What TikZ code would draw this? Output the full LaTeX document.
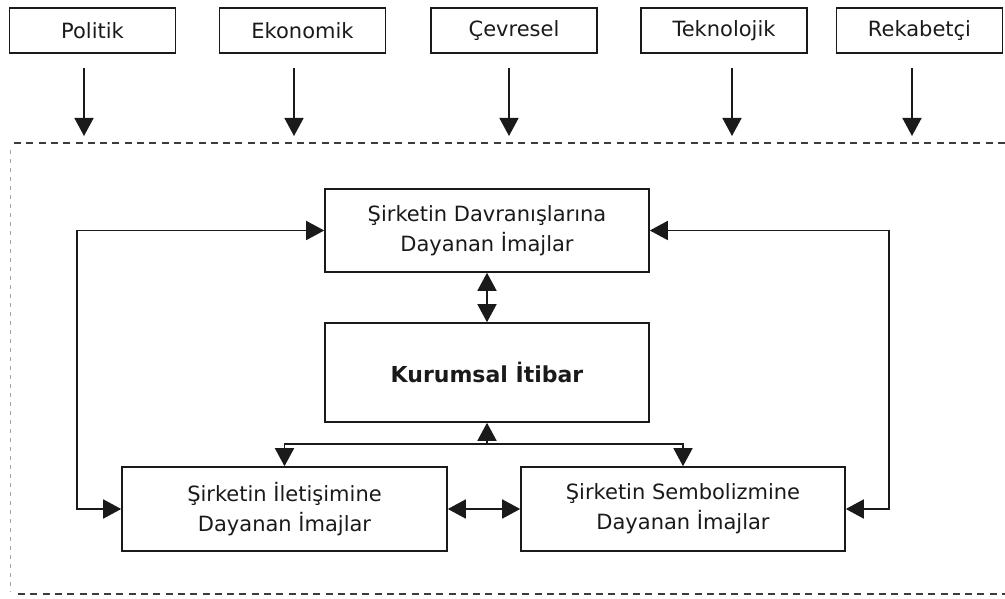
\documentclass[tikz,border=0pt]{standalone}
\usepackage{fontspec}
\setmainfont{DejaVu Sans}
\usetikzlibrary{arrows.meta}
\definecolor{ink}{HTML}{1A1A1A}
\definecolor{dashc}{HTML}{3C3C3C}
\tikzset{
  topbox/.style={draw=ink, line width=1.6pt, minimum width=166pt, minimum height=45pt, inner sep=0pt, text=ink, font=\fontsize{21}{30}\selectfont},
  midbox/.style={draw=ink, line width=1.6pt, minimum width=324pt, inner sep=0pt, text=ink, align=center, font=\fontsize{21}{30}\selectfont},
  conn/.style={draw=ink, line width=1.6pt, >={Triangle[length=18pt,width=19pt]}},
  frameline/.style={draw=dashc, line width=2pt, dash pattern=on 7pt off 5.3pt},
  frameside/.style={draw=gray!70, line width=1pt, dash pattern=on 4pt off 5pt}
}
\begin{document}
\begin{tikzpicture}[x=1pt,y=-1pt]
\useasboundingbox (0,0) rectangle (1005,599);
% top factor boxes
\node[topbox] (pol) at (92.5,30.5) {Politik};
\node[topbox] (eko) at (302.5,30.5) {Ekonomik};
\node[topbox] (cev) at (514,30.5) {Çevresel};
\node[topbox] (tek) at (724,30.5) {Teknolojik};
\node[topbox] (rek) at (919.5,30.5) {Rekabetçi};
% arrow start/end points
\coordinate (p1) at (84,68);  \coordinate (q1) at (84,136);
\coordinate (p2) at (294,68); \coordinate (q2) at (294,136);
\coordinate (p3) at (509,68); \coordinate (q3) at (509,136);
\coordinate (p4) at (732,68); \coordinate (q4) at (732,136);
\coordinate (p5) at (912,68); \coordinate (q5) at (912,136);
\foreach \i in {1,...,5} { \draw[conn,->] (p\i) -- (q\i); }
% dashed frame
\draw[frameline] (1005,143) -- (14,143);
\draw[frameline] (18,594) -- (1005,594);
\draw[frameside] (10,150) -- (10,592);
% central boxes
\node[midbox, minimum height=83pt] (dav) at (487,230.5) {Şirketin Davranışlarına\\Dayanan İmajlar};
\node[midbox, minimum height=99pt, font=\fontsize{22}{30}\selectfont\bfseries] (kur) at (487,372.5) {Kurumsal İtibar};
\node[midbox, minimum width=325pt, minimum height=84pt] (ile) at (284.5,509) {Şirketin İletişimine\\Dayanan İmajlar};
\node[midbox, minimum height=84pt] (sem) at (683,509) {Şirketin Sembolizmine\\Dayanan İmajlar};
% connectors
\coordinate (lx) at (77,370);
\coordinate (rx) at (889,370);
\coordinate (j) at (487,444);
\draw[conn,<->] (ile.west) -| (lx) |- (dav.west);
\draw[conn,<->] (sem.east) -| (rx) |- (dav.east);
\draw[conn,<->] (dav.south) -- (kur.north);
\draw[conn,<->] (ile.east) -- (sem.west);
\draw[conn,->] (j) -- (kur.south);
\draw[conn,->] (j) -| (ile.north);
\draw[conn,->] (j) -| (sem.north);
\end{tikzpicture}
\end{document}
